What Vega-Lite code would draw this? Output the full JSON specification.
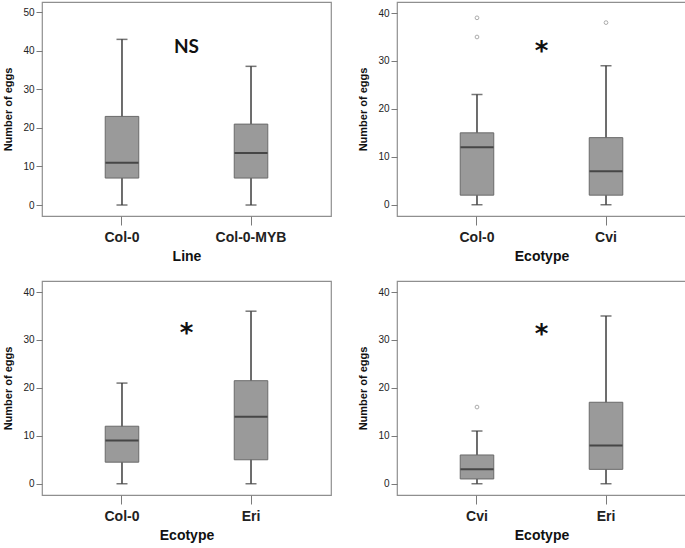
{
  "$schema": "https://vega.github.io/schema/vega-lite/v6.json",
  "padding": {"left": 2, "top": 1, "right": 0, "bottom": 0},
  "background": "white",
  "datasets": {
    "stats": [
      {"panel": "A", "group": "Col-0", "min": 0, "q1": 7, "median": 11, "q3": 23, "max": 43},
      {"panel": "A", "group": "Col-0-MYB", "min": 0, "q1": 7, "median": 13.5, "q3": 21, "max": 36},
      {"panel": "B", "group": "Col-0", "min": 0, "q1": 2, "median": 12, "q3": 15, "max": 23},
      {"panel": "B", "group": "Cvi", "min": 0, "q1": 2, "median": 7, "q3": 14, "max": 29},
      {"panel": "C", "group": "Col-0", "min": 0, "q1": 4.5, "median": 9, "q3": 12, "max": 21},
      {"panel": "C", "group": "Eri", "min": 0, "q1": 5, "median": 14, "q3": 21.5, "max": 36},
      {"panel": "D", "group": "Cvi", "min": 0, "q1": 1, "median": 3, "q3": 6, "max": 11},
      {"panel": "D", "group": "Eri", "min": 0, "q1": 3, "median": 8, "q3": 17, "max": 35}
    ],
    "outliers": [
      {"panel": "B", "group": "Col-0", "value": 39},
      {"panel": "B", "group": "Col-0", "value": 35},
      {"panel": "B", "group": "Cvi", "value": 38},
      {"panel": "D", "group": "Cvi", "value": 16}
    ],
    "notes": [
      {"panel": "A", "group": "Col-0", "label": "NS", "value": 41},
      {"panel": "B", "group": "Col-0", "label": "*", "value": 31.9},
      {"panel": "C", "group": "Col-0", "label": "*", "value": 31.2},
      {"panel": "D", "group": "Cvi", "label": "*", "value": 31}
    ]
  },
  "vconcat": [
    {
      "spacing": 25,
      "hconcat": [
        {
          "width": 289, "height": 214,
          "encoding": {"x": {"field": "group", "type": "nominal", "title": "Line", "scale": {"domain": ["Col-0", "Col-0-MYB"], "paddingInner": 0, "paddingOuter": 0.12}}},
          "layer": [
            {"data": {"name": "stats"}, "transform": [{"filter": "datum.panel === 'A'"}], "mark": {"type": "rule", "color": "#3d3d3d", "strokeWidth": 1.5},
             "encoding": {"y": {"field": "min", "type": "quantitative", "title": "Number of eggs", "scale": {"domain": [-2.85, 52.7], "nice": false, "zero": false}, "axis": {"values": [0, 10, 20, 30, 40, 50]}}, "y2": {"field": "max"}}},
            {"data": {"name": "stats"}, "transform": [{"filter": "datum.panel === 'A'"}], "mark": {"type": "tick", "color": "#3d3d3d", "thickness": 1.5, "size": 11},
             "encoding": {"y": {"field": "min", "type": "quantitative", "title": "Number of eggs", "scale": {"domain": [-2.85, 52.7], "nice": false, "zero": false}}}},
            {"data": {"name": "stats"}, "transform": [{"filter": "datum.panel === 'A'"}], "mark": {"type": "tick", "color": "#3d3d3d", "thickness": 1.5, "size": 11},
             "encoding": {"y": {"field": "max", "type": "quantitative", "title": "Number of eggs", "scale": {"domain": [-2.85, 52.7], "nice": false, "zero": false}}}},
            {"data": {"name": "stats"}, "transform": [{"filter": "datum.panel === 'A'"}], "mark": {"type": "bar", "fill": "#9a9a9a", "stroke": "#6a6a6a", "strokeWidth": 1, "width": {"band": 0.26}},
             "encoding": {"y": {"field": "q1", "type": "quantitative", "title": "Number of eggs", "scale": {"domain": [-2.85, 52.7], "nice": false, "zero": false}}, "y2": {"field": "q3"}}},
            {"data": {"name": "stats"}, "transform": [{"filter": "datum.panel === 'A'"}], "mark": {"type": "tick", "color": "#222222", "thickness": 2, "size": 33},
             "encoding": {"y": {"field": "median", "type": "quantitative", "title": "Number of eggs", "scale": {"domain": [-2.85, 52.7], "nice": false, "zero": false}}}},
            {"data": {"name": "notes"}, "transform": [{"filter": "datum.panel === 'A'"}], "mark": {"type": "text", "font": "Lato", "fontWeight": "bold", "fontSize": 19, "color": "#111", "baseline": "middle"},
             "encoding": {"x": {"field": "group", "type": "nominal", "bandPosition": 1}, "y": {"field": "value", "type": "quantitative", "title": "Number of eggs", "scale": {"domain": [-2.85, 52.7], "nice": false, "zero": false}}, "text": {"field": "label"}}}
          ]
        },
        {
          "width": 289, "height": 214,
          "encoding": {"x": {"field": "group", "type": "nominal", "title": "Ecotype", "scale": {"domain": ["Col-0", "Cvi"], "paddingInner": 0, "paddingOuter": 0.12}}},
          "layer": [
            {"data": {"name": "stats"}, "transform": [{"filter": "datum.panel === 'B'"}], "mark": {"type": "rule", "color": "#3d3d3d", "strokeWidth": 1.5},
             "encoding": {"y": {"field": "min", "type": "quantitative", "title": "Number of eggs", "scale": {"domain": [-2.35, 42.3], "nice": false, "zero": false}, "axis": {"values": [0, 10, 20, 30, 40]}}, "y2": {"field": "max"}}},
            {"data": {"name": "stats"}, "transform": [{"filter": "datum.panel === 'B'"}], "mark": {"type": "tick", "color": "#3d3d3d", "thickness": 1.5, "size": 11},
             "encoding": {"y": {"field": "min", "type": "quantitative", "title": "Number of eggs", "scale": {"domain": [-2.35, 42.3], "nice": false, "zero": false}}}},
            {"data": {"name": "stats"}, "transform": [{"filter": "datum.panel === 'B'"}], "mark": {"type": "tick", "color": "#3d3d3d", "thickness": 1.5, "size": 11},
             "encoding": {"y": {"field": "max", "type": "quantitative", "title": "Number of eggs", "scale": {"domain": [-2.35, 42.3], "nice": false, "zero": false}}}},
            {"data": {"name": "stats"}, "transform": [{"filter": "datum.panel === 'B'"}], "mark": {"type": "bar", "fill": "#9a9a9a", "stroke": "#6a6a6a", "strokeWidth": 1, "width": {"band": 0.26}},
             "encoding": {"y": {"field": "q1", "type": "quantitative", "title": "Number of eggs", "scale": {"domain": [-2.35, 42.3], "nice": false, "zero": false}}, "y2": {"field": "q3"}}},
            {"data": {"name": "stats"}, "transform": [{"filter": "datum.panel === 'B'"}], "mark": {"type": "tick", "color": "#222222", "thickness": 2, "size": 33},
             "encoding": {"y": {"field": "median", "type": "quantitative", "title": "Number of eggs", "scale": {"domain": [-2.35, 42.3], "nice": false, "zero": false}}}},
            {"data": {"name": "outliers"}, "transform": [{"filter": "datum.panel === 'B'"}], "mark": {"type": "point", "filled": false, "stroke": "#8a8a8a", "strokeWidth": 1, "size": 14},
             "encoding": {"y": {"field": "value", "type": "quantitative", "title": "Number of eggs", "scale": {"domain": [-2.35, 42.3], "nice": false, "zero": false}}}},
            {"data": {"name": "notes"}, "transform": [{"filter": "datum.panel === 'B'"}], "mark": {"type": "text", "font": "DejaVu Sans", "fontWeight": "bold", "fontSize": 26, "color": "#111", "baseline": "middle"},
             "encoding": {"x": {"field": "group", "type": "nominal", "bandPosition": 1}, "y": {"field": "value", "type": "quantitative", "title": "Number of eggs", "scale": {"domain": [-2.35, 42.3], "nice": false, "zero": false}}, "text": {"field": "label"}}}
          ]
        }
      ]
    },
    {
      "spacing": 25,
      "hconcat": [
        {
          "width": 289, "height": 214,
          "encoding": {"x": {"field": "group", "type": "nominal", "title": "Ecotype", "scale": {"domain": ["Col-0", "Eri"], "paddingInner": 0, "paddingOuter": 0.12}}},
          "layer": [
            {"data": {"name": "stats"}, "transform": [{"filter": "datum.panel === 'C'"}], "mark": {"type": "rule", "color": "#3d3d3d", "strokeWidth": 1.5},
             "encoding": {"y": {"field": "min", "type": "quantitative", "title": "Number of eggs", "scale": {"domain": [-2.35, 42.3], "nice": false, "zero": false}, "axis": {"values": [0, 10, 20, 30, 40]}}, "y2": {"field": "max"}}},
            {"data": {"name": "stats"}, "transform": [{"filter": "datum.panel === 'C'"}], "mark": {"type": "tick", "color": "#3d3d3d", "thickness": 1.5, "size": 11},
             "encoding": {"y": {"field": "min", "type": "quantitative", "title": "Number of eggs", "scale": {"domain": [-2.35, 42.3], "nice": false, "zero": false}}}},
            {"data": {"name": "stats"}, "transform": [{"filter": "datum.panel === 'C'"}], "mark": {"type": "tick", "color": "#3d3d3d", "thickness": 1.5, "size": 11},
             "encoding": {"y": {"field": "max", "type": "quantitative", "title": "Number of eggs", "scale": {"domain": [-2.35, 42.3], "nice": false, "zero": false}}}},
            {"data": {"name": "stats"}, "transform": [{"filter": "datum.panel === 'C'"}], "mark": {"type": "bar", "fill": "#9a9a9a", "stroke": "#6a6a6a", "strokeWidth": 1, "width": {"band": 0.26}},
             "encoding": {"y": {"field": "q1", "type": "quantitative", "title": "Number of eggs", "scale": {"domain": [-2.35, 42.3], "nice": false, "zero": false}}, "y2": {"field": "q3"}}},
            {"data": {"name": "stats"}, "transform": [{"filter": "datum.panel === 'C'"}], "mark": {"type": "tick", "color": "#222222", "thickness": 2, "size": 33},
             "encoding": {"y": {"field": "median", "type": "quantitative", "title": "Number of eggs", "scale": {"domain": [-2.35, 42.3], "nice": false, "zero": false}}}},
            {"data": {"name": "notes"}, "transform": [{"filter": "datum.panel === 'C'"}], "mark": {"type": "text", "font": "DejaVu Sans", "fontWeight": "bold", "fontSize": 26, "color": "#111", "baseline": "middle"},
             "encoding": {"x": {"field": "group", "type": "nominal", "bandPosition": 1}, "y": {"field": "value", "type": "quantitative", "title": "Number of eggs", "scale": {"domain": [-2.35, 42.3], "nice": false, "zero": false}}, "text": {"field": "label"}}}
          ]
        },
        {
          "width": 289, "height": 214,
          "encoding": {"x": {"field": "group", "type": "nominal", "title": "Ecotype", "scale": {"domain": ["Cvi", "Eri"], "paddingInner": 0, "paddingOuter": 0.12}}},
          "layer": [
            {"data": {"name": "stats"}, "transform": [{"filter": "datum.panel === 'D'"}], "mark": {"type": "rule", "color": "#3d3d3d", "strokeWidth": 1.5},
             "encoding": {"y": {"field": "min", "type": "quantitative", "title": "Number of eggs", "scale": {"domain": [-2.35, 42.3], "nice": false, "zero": false}, "axis": {"values": [0, 10, 20, 30, 40]}}, "y2": {"field": "max"}}},
            {"data": {"name": "stats"}, "transform": [{"filter": "datum.panel === 'D'"}], "mark": {"type": "tick", "color": "#3d3d3d", "thickness": 1.5, "size": 11},
             "encoding": {"y": {"field": "min", "type": "quantitative", "title": "Number of eggs", "scale": {"domain": [-2.35, 42.3], "nice": false, "zero": false}}}},
            {"data": {"name": "stats"}, "transform": [{"filter": "datum.panel === 'D'"}], "mark": {"type": "tick", "color": "#3d3d3d", "thickness": 1.5, "size": 11},
             "encoding": {"y": {"field": "max", "type": "quantitative", "title": "Number of eggs", "scale": {"domain": [-2.35, 42.3], "nice": false, "zero": false}}}},
            {"data": {"name": "stats"}, "transform": [{"filter": "datum.panel === 'D'"}], "mark": {"type": "bar", "fill": "#9a9a9a", "stroke": "#6a6a6a", "strokeWidth": 1, "width": {"band": 0.26}},
             "encoding": {"y": {"field": "q1", "type": "quantitative", "title": "Number of eggs", "scale": {"domain": [-2.35, 42.3], "nice": false, "zero": false}}, "y2": {"field": "q3"}}},
            {"data": {"name": "stats"}, "transform": [{"filter": "datum.panel === 'D'"}], "mark": {"type": "tick", "color": "#222222", "thickness": 2, "size": 33},
             "encoding": {"y": {"field": "median", "type": "quantitative", "title": "Number of eggs", "scale": {"domain": [-2.35, 42.3], "nice": false, "zero": false}}}},
            {"data": {"name": "outliers"}, "transform": [{"filter": "datum.panel === 'D'"}], "mark": {"type": "point", "filled": false, "stroke": "#8a8a8a", "strokeWidth": 1, "size": 14},
             "encoding": {"y": {"field": "value", "type": "quantitative", "title": "Number of eggs", "scale": {"domain": [-2.35, 42.3], "nice": false, "zero": false}}}},
            {"data": {"name": "notes"}, "transform": [{"filter": "datum.panel === 'D'"}], "mark": {"type": "text", "font": "DejaVu Sans", "fontWeight": "bold", "fontSize": 26, "color": "#111", "baseline": "middle"},
             "encoding": {"x": {"field": "group", "type": "nominal", "bandPosition": 1}, "y": {"field": "value", "type": "quantitative", "title": "Number of eggs", "scale": {"domain": [-2.35, 42.3], "nice": false, "zero": false}}, "text": {"field": "label"}}}
          ]
        }
      ]
    }
  ],
  "spacing": 16,
  "config": {
    "view": {"stroke": "#8f8f8f", "strokeWidth": 1.2},
    "axis": {"grid": false, "domain": false, "tickColor": "#7a7a7a", "labelFont": "Liberation Sans", "titleFont": "Liberation Sans", "labelColor": "#222222", "titleColor": "#111111"},
    "axisY": {"tickSize": 6, "labelFontSize": 10, "labelPadding": 2, "titleFontSize": 11, "titleFontWeight": "bold", "titlePadding": 9},
    "axisX": {"tickSize": 9, "labelFontSize": 14, "labelFontWeight": "bold", "labelAngle": 0, "labelPadding": 5, "titleFontSize": 14, "titleFontWeight": "bold", "titlePadding": 5}
  }
}
